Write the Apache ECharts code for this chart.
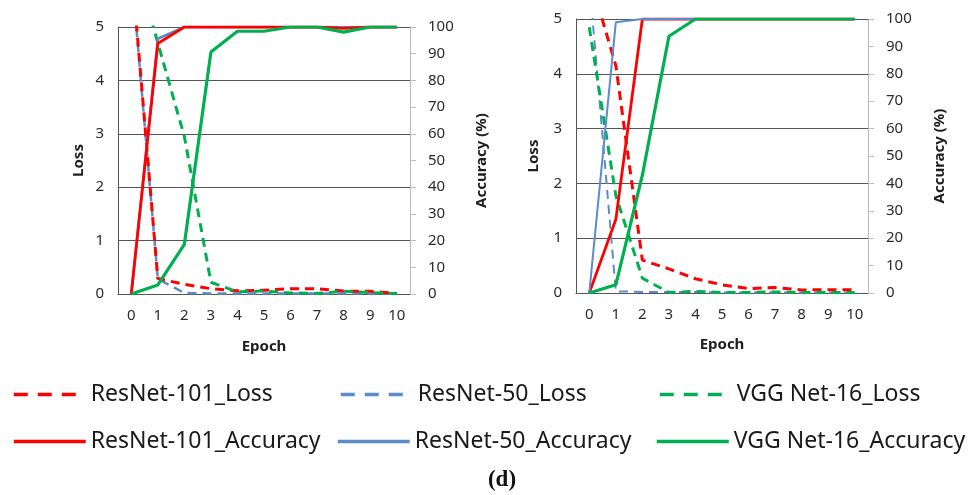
<!DOCTYPE html>
<html>
<head>
<meta charset="utf-8">
<script src="https://cdn.jsdelivr.net/npm/echarts@6/dist/echarts.min.js"></script>
<style>
  html, body { margin: 0; padding: 0; background: #fff; }
  #chart { width: 980px; height: 495px; }
</style>
</head>
<body>
<div id="chart"></div>
<script>
// Epoch categories shared by both panels
const epochs = ['0', '1', '2', '3', '4', '5', '6', '7', '8', '9', '10'];

// Left panel: loss (left axis) and accuracy in % (right axis)
const resnet101LossA = [6.2, 0.29, 0.18, 0.1, 0.06, 0.07, 0.1, 0.1, 0.055, 0.05, 0.01];
const resnet50LossA  = [6.1, 0.28, 0.02, 0.01, 0.01, 0.01, 0.01, 0.01, 0.01, 0.01, 0.01];
const vggLossA       = [6.5, 4.7, 2.95, 0.22, 0.04, 0.055, 0.02, 0.01, 0.05, 0.025, 0.01];
const resnet101AccA  = [0, 93.8, 100, 100, 100, 100, 100, 100, 99.5, 100, 100];
const resnet50AccA   = [0, 95.6, 100, 100, 100, 100, 100, 100, 100, 100, 100];
const vggAccA        = [0, 3.4, 18.6, 90.6, 98.4, 98.4, 100, 100, 98.1, 100, 100];

// Right panel
const resnet101LossB = [5.8, 4.15, 0.6, 0.44, 0.26, 0.15, 0.08, 0.1, 0.055, 0.06, 0.06];
const resnet50LossB  = [5.7, 0.03, 0.02, 0.02, 0.02, 0.01, 0.01, 0.01, 0.01, 0.01, 0.01];
const vggLossB       = [4.85, 1.78, 0.27, 0.01, 0.03, 0.01, 0.01, 0.02, 0.01, 0.01, 0.01];
const resnet101AccB  = [0, 26.8, 100, 100, 100, 100, 100, 100, 100, 100, 100];
const resnet50AccB   = [0, 98.8, 100, 100, 100, 100, 100, 100, 100, 100, 100];
const vggAccB        = [0, 3, 43, 93.7, 100, 100, 100, 100, 100, 100, 100];

const seriesNames = [
  'ResNet-101_Loss', 'ResNet-50_Loss', 'VGG Net-16_Loss',
  'ResNet-101_Accuracy', 'ResNet-50_Accuracy', 'VGG Net-16_Accuracy'
];

const RED = '#ff0000', BLUE = '#5b8bcb', GREEN = '#00b050';
const GRID_DARK = '#555555', AXIS_LIGHT = '#bdbdbd', TEXT = '#2b2b2b';
const FONT = 'Noto Sans';
const DASH = [9, 6];

function lossAxis(gridIndex, nameGap) {
  return {
    type: 'value', gridIndex, min: 0, max: 5, interval: 1, position: 'left',
    name: 'Loss', nameLocation: 'middle', nameGap,
    nameTextStyle: { fontFamily: FONT, fontWeight: 'bold', fontSize: 15, color: '#1e1e1e' },
    axisLine: { show: true, lineStyle: { color: GRID_DARK, width: 1 } },
    axisTick: { show: false },
    axisLabel: { margin: 14, fontFamily: FONT, fontSize: 15, color: TEXT },
    splitLine: { show: true, lineStyle: { color: GRID_DARK, width: 1 } }
  };
}
function accAxis(gridIndex, nameGap) {
  return {
    type: 'value', gridIndex, min: 0, max: 100, interval: 10, position: 'right',
    name: 'Accuracy (%)', nameLocation: 'middle', nameGap,
    nameTextStyle: { fontFamily: FONT, fontWeight: 'bold', fontSize: 15, color: '#1e1e1e' },
    axisLine: { show: true, lineStyle: { color: AXIS_LIGHT, width: 1 } },
    axisTick: { show: true, length: 6, lineStyle: { color: AXIS_LIGHT } },
    axisLabel: { margin: 18, fontFamily: FONT, fontSize: 15, color: TEXT },
    splitLine: { show: false }
  };
}
function epochAxis(gridIndex, nameGap) {
  return {
    type: 'category', gridIndex, data: epochs, boundaryGap: true,
    name: 'Epoch', nameLocation: 'middle', nameGap,
    nameTextStyle: { fontFamily: FONT, fontWeight: 'bold', fontSize: 15, color: '#1e1e1e' },
    axisLine: { show: true, lineStyle: { color: GRID_DARK, width: 1 } },
    axisTick: { show: false },
    axisLabel: { margin: 14, fontFamily: FONT, fontSize: 15, color: TEXT, interval: 0 }
  };
}

function line(name, data, xi, yi, color, width, dashed, z) {
  return {
    type: 'line', name, data, xAxisIndex: xi, yAxisIndex: yi,
    symbol: 'none', clip: true, z,
    lineStyle: { color, width, type: dashed ? DASH : 'solid' },
    itemStyle: { color },
    emphasis: { disabled: true }
  };
}

// One legend per entry so the items sit on a 3 x 2 layout
const legendSlots = [
  { name: seriesNames[0], left: 12,  top: 383, dashed: true },
  { name: seriesNames[1], left: 339, top: 383, dashed: true },
  { name: seriesNames[2], left: 658, top: 383, dashed: true },
  { name: seriesNames[3], left: 12,  top: 430, dashed: false },
  { name: seriesNames[4], left: 336, top: 430, dashed: false },
  { name: seriesNames[5], left: 655, top: 430, dashed: false }
];
const legends = legendSlots.map(s => ({
  data: [s.name], left: s.left, top: s.top, padding: 0,
  itemWidth: 72, itemHeight: 22, itemGap: 0,
  selectedMode: false,
  itemStyle: { opacity: 0 },
  lineStyle: { width: 3.5, type: s.dashed ? [14, 10] : 'solid' },
  textStyle: { fontFamily: FONT, fontSize: 23, color: '#1a1a1a', padding: [0, 0, 0, 0] }
}));

const option = {
  animation: false,
  backgroundColor: '#fff',
  title: {
    text: '(d)', left: 497, top: 464, textAlign: 'center',
    textStyle: { fontFamily: 'Liberation Serif', fontWeight: 'bold', fontSize: 23, color: '#111' }
  },
  legend: legends,
  grid: [
    { left: 118, top: 27, width: 292, height: 267 },
    { left: 576, top: 19, width: 292, height: 274 }
  ],
  xAxis: [epochAxis(0, 45), epochAxis(1, 44)],
  yAxis: [lossAxis(0, 32), accAxis(0, 64), lossAxis(1, 35), accAxis(1, 64)],
  series: [
    line(seriesNames[0], resnet101LossA, 0, 0, RED, 3, true, 3),
    line(seriesNames[1], resnet50LossA, 0, 0, BLUE, 2.5, true, 2),
    line(seriesNames[2], vggLossA, 0, 0, GREEN, 3, true, 4),
    line(seriesNames[4], resnet50AccA, 0, 1, BLUE, 2.5, false, 5),
    line(seriesNames[3], resnet101AccA, 0, 1, RED, 2.8, false, 6),
    line(seriesNames[5], vggAccA, 0, 1, GREEN, 3.2, false, 7),

    line(seriesNames[0], resnet101LossB, 1, 2, RED, 3, true, 3),
    line(seriesNames[1], resnet50LossB, 1, 2, BLUE, 2, true, 2),
    line(seriesNames[2], vggLossB, 1, 2, GREEN, 3, true, 4),
    line(seriesNames[3], resnet101AccB, 1, 3, RED, 2.8, false, 5),
    line(seriesNames[4], resnet50AccB, 1, 3, BLUE, 2, false, 6),
    line(seriesNames[5], vggAccB, 1, 3, GREEN, 3.2, false, 7)
  ]
};

const chart = echarts.init(document.getElementById('chart'), null, { renderer: 'canvas' });
chart.setOption(option);
</script>
</body>
</html>
